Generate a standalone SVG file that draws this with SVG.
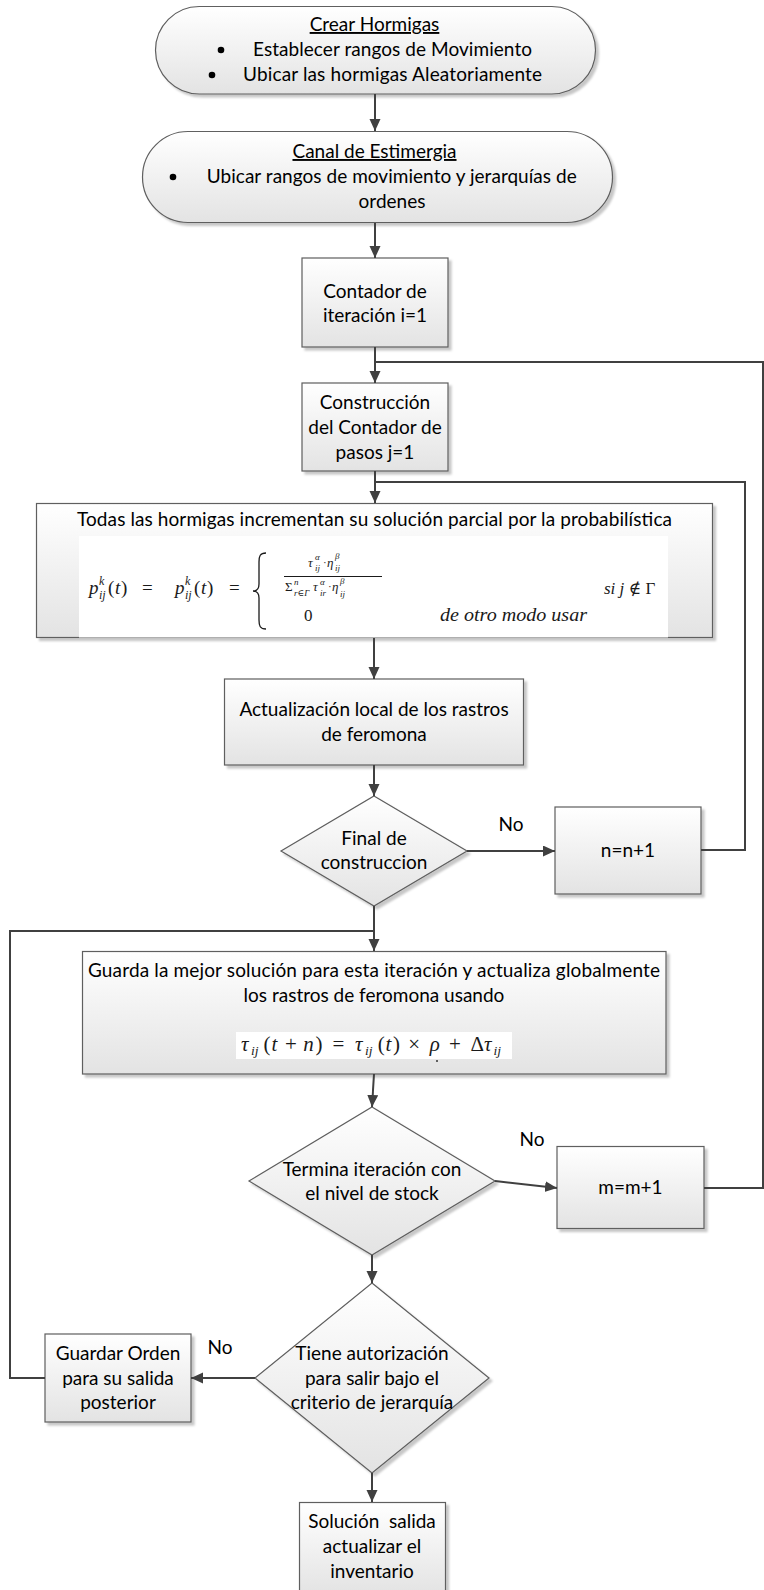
<svg xmlns="http://www.w3.org/2000/svg" width="764" height="1590" viewBox="0 0 764 1590">
  <defs>
    <linearGradient id="fillGrad" x1="0" y1="0" x2="0" y2="1">
      <stop offset="0" stop-color="#ffffff"/>
      <stop offset="1" stop-color="#e3e3e3"/>
    </linearGradient>
    <filter id="shadow" x="-5%" y="-5%" width="115%" height="120%">
      <feDropShadow dx="3" dy="3" stdDeviation="1.2" flood-color="#000" flood-opacity="0.22"/>
    </filter>
    <marker id="arrow" markerUnits="userSpaceOnUse" markerWidth="13" markerHeight="12" refX="12" refY="5.5" orient="auto">
      <path d="M0,0 L12,5.5 L0,11 Z" fill="#404040"/>
    </marker>
  </defs>
  <style>
    .shape { fill: url(#fillGrad); stroke: #5e5e5e; stroke-width: 1.2; filter: url(#shadow); }
    .t { font-family: Lato, "Liberation Sans", sans-serif; font-size: 19px; fill: #000; text-anchor: middle; }
    .u { text-decoration: underline; }
    .bullet { fill: #000; }
    .conn path { fill: none; stroke: #404040; stroke-width: 2; }
    .conn .arr { marker-end: url(#arrow); }
    .mi { font-family: "Liberation Serif", "DejaVu Serif", serif; font-style: italic; fill: #1a1a1a; }
    .mr { font-family: "Liberation Serif", "DejaVu Serif", serif; font-style: normal; fill: #1a1a1a; }
    .formula-bg { fill: #ffffff; }
  </style>

  <rect width="764" height="1590" fill="#ffffff"/>

  <!-- Start: create ants -->
  <g id="crear-hormigas">
    <rect class="shape" x="155.5" y="6.5" width="440" height="87.5" rx="43.75"/>
    <text class="t u" x="374.5" y="31">Crear Hormigas</text>
    <circle class="bullet" cx="221" cy="50" r="3.3"/>
    <text class="t" x="392.5" y="56" textLength="279">Establecer rangos de Movimiento</text>
    <circle class="bullet" cx="212" cy="75" r="3.3"/>
    <text class="t" x="392.5" y="81" textLength="299">Ubicar las hormigas Aleatoriamente</text>
  </g>

  <!-- Stigmergy channel -->
  <g id="canal-estimergia">
    <rect class="shape" x="142.5" y="131.5" width="470" height="91" rx="45.5"/>
    <text class="t u" x="374.5" y="158">Canal de Estimergia</text>
    <circle class="bullet" cx="173" cy="177" r="3.3"/>
    <text class="t" x="391.7" y="183" textLength="370">Ubicar rangos de movimiento y jerarquías de</text>
    <text class="t" x="392" y="208">ordenes</text>
  </g>

  <!-- Iteration counter -->
  <g id="contador-iteracion">
    <rect class="shape" x="302" y="258" width="146" height="89"/>
    <text class="t" x="375" y="298">Contador de</text>
    <text class="t" x="375" y="322">iteración i=1</text>
  </g>

  <!-- Step counter -->
  <g id="contador-pasos">
    <rect class="shape" x="302" y="383" width="146" height="88"/>
    <text class="t" x="375" y="409">Construcción</text>
    <text class="t" x="375" y="434">del Contador de</text>
    <text class="t" x="375" y="459">pasos j=1</text>
  </g>

  <!-- Probabilistic transition rule -->
  <g id="solucion-parcial">
    <rect class="shape" x="36.5" y="503.5" width="676" height="134"/>
    <rect class="formula-bg" x="79" y="536" width="589" height="101.5"/>
    <text class="t" x="374.5" y="526" textLength="595">Todas las hormigas incrementan su solución parcial por la probabilística</text>
    <!-- p_ij^k(t) = p_ij^k(t) = -->
    <text class="mi" x="89" y="594" font-size="19">p</text>
    <text class="mi" x="99" y="585" font-size="12">k</text>
    <text class="mi" x="99" y="599" font-size="12">ij</text>
    <text class="mr" x="108" y="594" font-size="19">(</text>
    <text class="mi" x="115" y="594" font-size="19">t</text>
    <text class="mr" x="121" y="594" font-size="19">)</text>
    <text class="mr" x="142" y="594" font-size="19">=</text>
    <text class="mi" x="175" y="594" font-size="19">p</text>
    <text class="mi" x="185" y="585" font-size="12">k</text>
    <text class="mi" x="185" y="599" font-size="12">ij</text>
    <text class="mr" x="194" y="594" font-size="19">(</text>
    <text class="mi" x="201" y="594" font-size="19">t</text>
    <text class="mr" x="207" y="594" font-size="19">)</text>
    <text class="mr" x="229" y="594" font-size="19">=</text>
    <path d="M266,553 C260,553 259,556 259,562 L259,584 C259,589 257,591 253,591 C257,591 259,593 259,598 L259,620 C259,626 260,629 266,629" fill="none" stroke="#1a1a1a" stroke-width="1.3"/>
    <!-- fraction -->
    <text class="mi" x="308" y="567" font-size="13">τ</text>
    <text class="mi" x="315" y="560" font-size="9">α</text>
    <text class="mi" x="315" y="571" font-size="9">ij</text>
    <text class="mr" x="323" y="566" font-size="11">·</text>
    <text class="mi" x="327" y="567" font-size="13">η</text>
    <text class="mi" x="335" y="559" font-size="9">β</text>
    <text class="mi" x="335" y="571" font-size="9">ij</text>
    <line x1="284" y1="576.5" x2="382" y2="576.5" stroke="#1a1a1a" stroke-width="1"/>
    <text class="mr" x="285" y="591" font-size="13">Σ</text>
    <text class="mi" x="294" y="585" font-size="9">n</text>
    <text class="mi" x="294" y="596" font-size="9">r∈Γ</text>
    <text class="mi" x="313" y="591" font-size="13">τ</text>
    <text class="mi" x="320" y="585" font-size="9">α</text>
    <text class="mi" x="320" y="596" font-size="9">ir</text>
    <text class="mr" x="328" y="590" font-size="11">·</text>
    <text class="mi" x="332" y="591" font-size="13">η</text>
    <text class="mi" x="340" y="584" font-size="9">β</text>
    <text class="mi" x="340" y="597" font-size="9">ij</text>
    <text class="mr" x="304" y="621" font-size="17">0</text>
    <text class="mi" x="440" y="621" font-size="18" textLength="147" lengthAdjust="spacingAndGlyphs">de otro modo usar</text>
    <text class="mi" x="604" y="594" font-size="17">si j ∉ <tspan class="mr">Γ</tspan></text>
  </g>

  <!-- Local pheromone update -->
  <g id="actualizacion-local">
    <rect class="shape" x="224.5" y="679" width="299" height="86"/>
    <text class="t" x="374" y="716">Actualización local de los rastros</text>
    <text class="t" x="374" y="741">de feromona</text>
  </g>

  <!-- Decision: end of construction -->
  <g id="final-construccion">
    <polygon class="shape" points="374,796 467,851 374,906 281,851"/>
    <text class="t" x="374" y="845">Final de</text>
    <text class="t" x="374" y="869">construccion</text>
  </g>

  <!-- n = n + 1 -->
  <g id="incremento-n">
    <rect class="shape" x="555" y="807" width="146" height="87"/>
    <text class="t" x="628" y="857">n=n+1</text>
  </g>

  <!-- Global pheromone update -->
  <g id="actualizacion-global">
    <rect class="shape" x="82.5" y="951.5" width="583.5" height="122.5"/>
    <text class="t" x="374" y="977" textLength="572">Guarda la mejor solución para esta iteración y actualiza globalmente</text>
    <text class="t" x="374" y="1002">los rastros de feromona usando</text>
    <rect class="formula-bg" x="236" y="1032" width="276" height="27"/>
    <!-- tau_ij(t+n) = tau_ij(t) x rho + delta tau_ij -->
    <text class="mi" x="241" y="1051" font-size="21">τ</text>
    <text class="mi" x="251" y="1055" font-size="13.5">ij</text>
    <text class="mr" x="263.6" y="1051" font-size="21">(</text>
    <text class="mi" x="271.5" y="1051" font-size="21">t</text>
    <text class="mr" x="285.1" y="1051" font-size="21">+</text>
    <text class="mi" x="303.2" y="1051" font-size="21">n</text>
    <text class="mr" x="315.6" y="1051" font-size="21">)</text>
    <text class="mr" x="332.5" y="1051" font-size="21">=</text>
    <text class="mi" x="355.1" y="1051" font-size="21">τ</text>
    <text class="mi" x="365" y="1055" font-size="13.5">ij</text>
    <text class="mr" x="377.7" y="1051" font-size="21">(</text>
    <text class="mi" x="385.6" y="1051" font-size="21">t</text>
    <text class="mr" x="393" y="1051" font-size="21">)</text>
    <text class="mr" x="408.2" y="1051" font-size="21">×</text>
    <text class="mi" x="429.7" y="1051" font-size="21">ρ</text>
    <text class="mr" x="448.9" y="1051" font-size="21">+</text>
    <text class="mr" x="470.4" y="1051" font-size="21">Δ</text>
    <text class="mi" x="484" y="1051" font-size="21">τ</text>
    <text class="mi" x="493.5" y="1055" font-size="13.5">ij</text>
    <circle cx="437" cy="1061" r="1" fill="#333"/>
  </g>

  <!-- Decision: iteration ends with stock level -->
  <g id="termina-iteracion">
    <polygon class="shape" points="372,1107 495,1181 372,1255 249,1181"/>
    <text class="t" x="372" y="1176">Termina iteración con</text>
    <text class="t" x="372" y="1200">el nivel de stock</text>
  </g>

  <!-- m = m + 1 -->
  <g id="incremento-m">
    <rect class="shape" x="557" y="1146.5" width="147" height="82"/>
    <text class="t" x="630.5" y="1194">m=m+1</text>
  </g>

  <!-- Decision: authorised to leave by hierarchy -->
  <g id="autorizacion">
    <polygon class="shape" points="372,1283 489,1378 372,1473 255,1378"/>
    <text class="t" x="372" y="1360">Tiene autorización</text>
    <text class="t" x="372" y="1385">para salir bajo el</text>
    <text class="t" x="372" y="1409">criterio de jerarquía</text>
  </g>

  <!-- Hold order -->
  <g id="guardar-orden">
    <rect class="shape" x="45" y="1334" width="146" height="88"/>
    <text class="t" x="118" y="1360">Guardar Orden</text>
    <text class="t" x="118" y="1385">para su salida</text>
    <text class="t" x="118" y="1409">posterior</text>
  </g>

  <!-- Output and inventory update -->
  <g id="solucion-salida">
    <rect class="shape" x="299.5" y="1502.5" width="146" height="92"/>
    <text class="t" x="372" y="1528" xml:space="preserve">Solución  salida</text>
    <text class="t" x="372" y="1553">actualizar el</text>
    <text class="t" x="372" y="1578">inventario</text>
  </g>

  <!-- Connectors -->
  <g id="connectors" class="conn">
    <path class="arr" d="M375,94 L375,131"/>
    <path class="arr" d="M375,223 L375,258"/>
    <path class="arr" d="M375,347 L375,383"/>
    <path class="arr" d="M375,471 L375,503"/>
    <path class="arr" d="M374,638 L374,679"/>
    <path class="arr" d="M374,765 L374,796"/>
    <path class="arr" d="M374,906 L374,951"/>
    <path class="arr" d="M467,851 L555,851"/>
    <path d="M701,850 L745,850 L745,482 L375,482"/>
    <path class="arr" d="M374,1074 L372,1107"/>
    <path class="arr" d="M495,1181 L557,1188"/>
    <path d="M704,1188 L763,1188 L763,362 L375,362"/>
    <path class="arr" d="M372,1255 L372,1283"/>
    <path class="arr" d="M255,1378 L191,1378"/>
    <path d="M45,1378 L10,1378 L10,931 L374,931"/>
    <path class="arr" d="M372,1473 L372,1502"/>
  </g>

  <!-- Branch labels -->
  <g id="labels">
    <text class="t" x="511" y="831">No</text>
    <text class="t" x="532" y="1146">No</text>
    <text class="t" x="220" y="1354">No</text>
  </g>
</svg>
